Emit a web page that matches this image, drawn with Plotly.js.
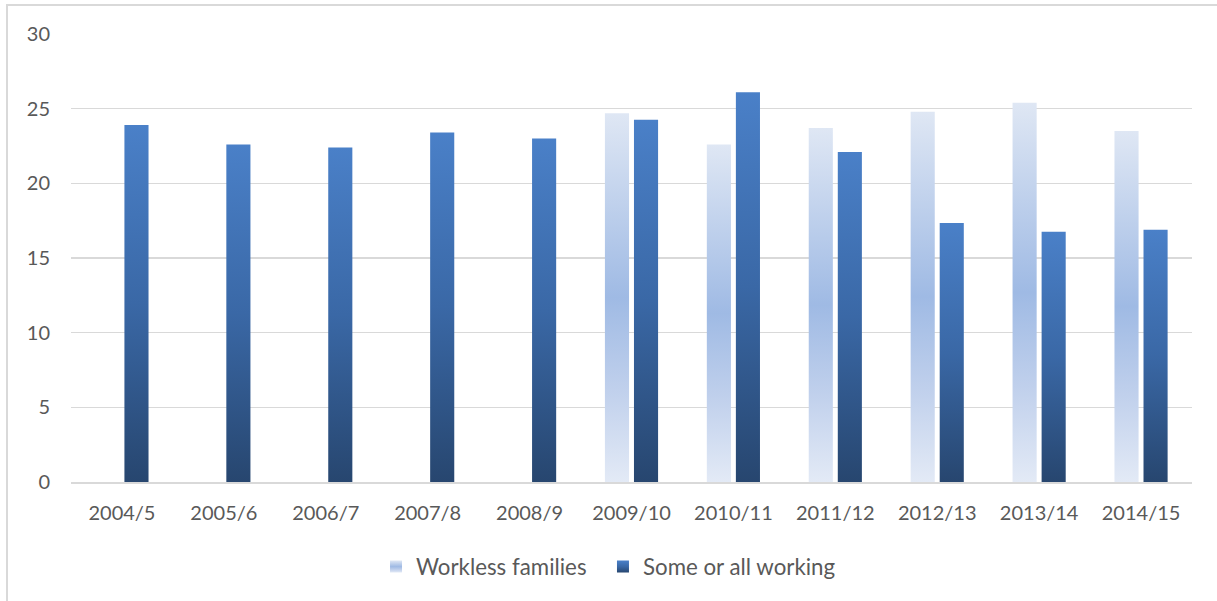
<!DOCTYPE html>
<html>
<head>
<meta charset="utf-8">
<script src="https://cdn.plot.ly/plotly-3.0.1.min.js"></script>
<style>
  html, body { margin: 0; padding: 0; background: #ffffff; overflow: hidden; }
  #frame { position: absolute; left: 6px; top: 4px; width: 1400px; height: 800px;
           border-left: 2px solid #d9d9d9; border-top: 2px solid #d9d9d9; }
  #chart { position: absolute; left: 0; top: 0; width: 1217px; height: 601px; }
</style>
</head>
<body>
<div id="frame"></div>
<div id="chart"></div>
<script>
const categories = ["2004/5","2005/6","2006/7","2007/8","2008/9","2009/10","2010/11","2011/12","2012/13","2013/14","2014/15"];
const seriesNames = ["Workless families", "Some or all working"];
const workless = [null, null, null, null, null, 24.7, 22.6, 23.7, 24.8, 25.4, 23.5];
const working  = [23.9, 22.6, 22.4, 23.4, 23.0, 24.25, 26.1, 22.1, 17.35, 16.75, 16.9];
const yTicks = [0, 5, 10, 15, 20, 25, 30];

const font = "Lato, 'Open Sans', sans-serif";

const data = [
  { type: "bar", name: seriesNames[0] + "\u00a0\u00a0", x: categories, y: workless,
    marker: { color: "#b4c7e9" }, hoverinfo: "x+y+name" },
  { type: "bar", name: seriesNames[1], x: categories, y: working,
    marker: { color: "#3a68a8" }, hoverinfo: "x+y+name" }
];

const layout = {
  width: 1217, height: 601,
  margin: { l: 71, r: 25, t: 34, b: 119 },
  paper_bgcolor: "rgba(0,0,0,0)", plot_bgcolor: "rgba(0,0,0,0)",
  barmode: "group", bargap: 0.43, bargroupgap: 0.17,
  font: { family: font, size: 20, color: "#595959" },
  showlegend: true,
  legend: { orientation: "h", x: 0.4795, xanchor: "center", y: -0.142, yanchor: "top",
            font: { family: font, size: 22.3, color: "#595959" }, itemwidth: 30, tracegroupgap: 0 },
  xaxis: { type: "category", showgrid: false, ticks: "", showline: true, linecolor: "#d9d9d9",
           linewidth: 1.5, ticklabelstandoff: 12,
           tickfont: { family: font, size: 20, color: "#595959" }, fixedrange: true },
  yaxis: { range: [0, 30], tickvals: yTicks, ticktext: yTicks.map(String), showgrid: true,
           gridcolor: "#d9d9d9", gridwidth: 1.5, zeroline: false, showline: false, ticks: "",
           ticklen: 0, ticklabelstandoff: 20,
           tickfont: { family: font, size: 20, color: "#595959" }, fixedrange: true }
};

Plotly.newPlot("chart", data, layout, { displayModeBar: false, staticPlot: true }).then(function (gd) {
  const svg = gd.querySelector("svg.main-svg");
  const ns = "http://www.w3.org/2000/svg";
  let defs = svg.querySelector("defs");
  if (!defs) { defs = document.createElementNS(ns, "defs"); svg.insertBefore(defs, svg.firstChild); }
  function grad(id, stops) {
    const g = document.createElementNS(ns, "linearGradient");
    g.setAttribute("id", id);
    g.setAttribute("x1", "0"); g.setAttribute("y1", "0");
    g.setAttribute("x2", "0"); g.setAttribute("y2", "1");
    stops.forEach(function (s) {
      const st = document.createElementNS(ns, "stop");
      st.setAttribute("offset", s[0]); st.setAttribute("stop-color", s[1]);
      g.appendChild(st);
    });
    defs.appendChild(g);
  }
  grad("gLight", [["0", "#dfe7f4"], ["0.5", "#9fbae4"], ["0.75", "#c0d0ec"], ["1", "#e3eaf6"]]);
  grad("gDark", [["0", "#4a80c8"], ["0.5", "#3a68a6"], ["1", "#27466f"]]);
  const traces = gd.querySelectorAll(".barlayer .trace");
  const ids = ["gLight", "gDark"];
  traces.forEach(function (t, i) {
    t.querySelectorAll("path").forEach(function (p) {
      p.style.fill = "url(#" + ids[i] + ")";
    });
  });
  const leg = gd.querySelectorAll(".legend .traces");
  leg.forEach(function (t, i) {
    t.querySelectorAll(".legendpoints path").forEach(function (p) {
      p.style.fill = "url(#" + ids[i] + ")";
      p.style.stroke = "none";
    });
  });
});
</script>
</body>
</html>
